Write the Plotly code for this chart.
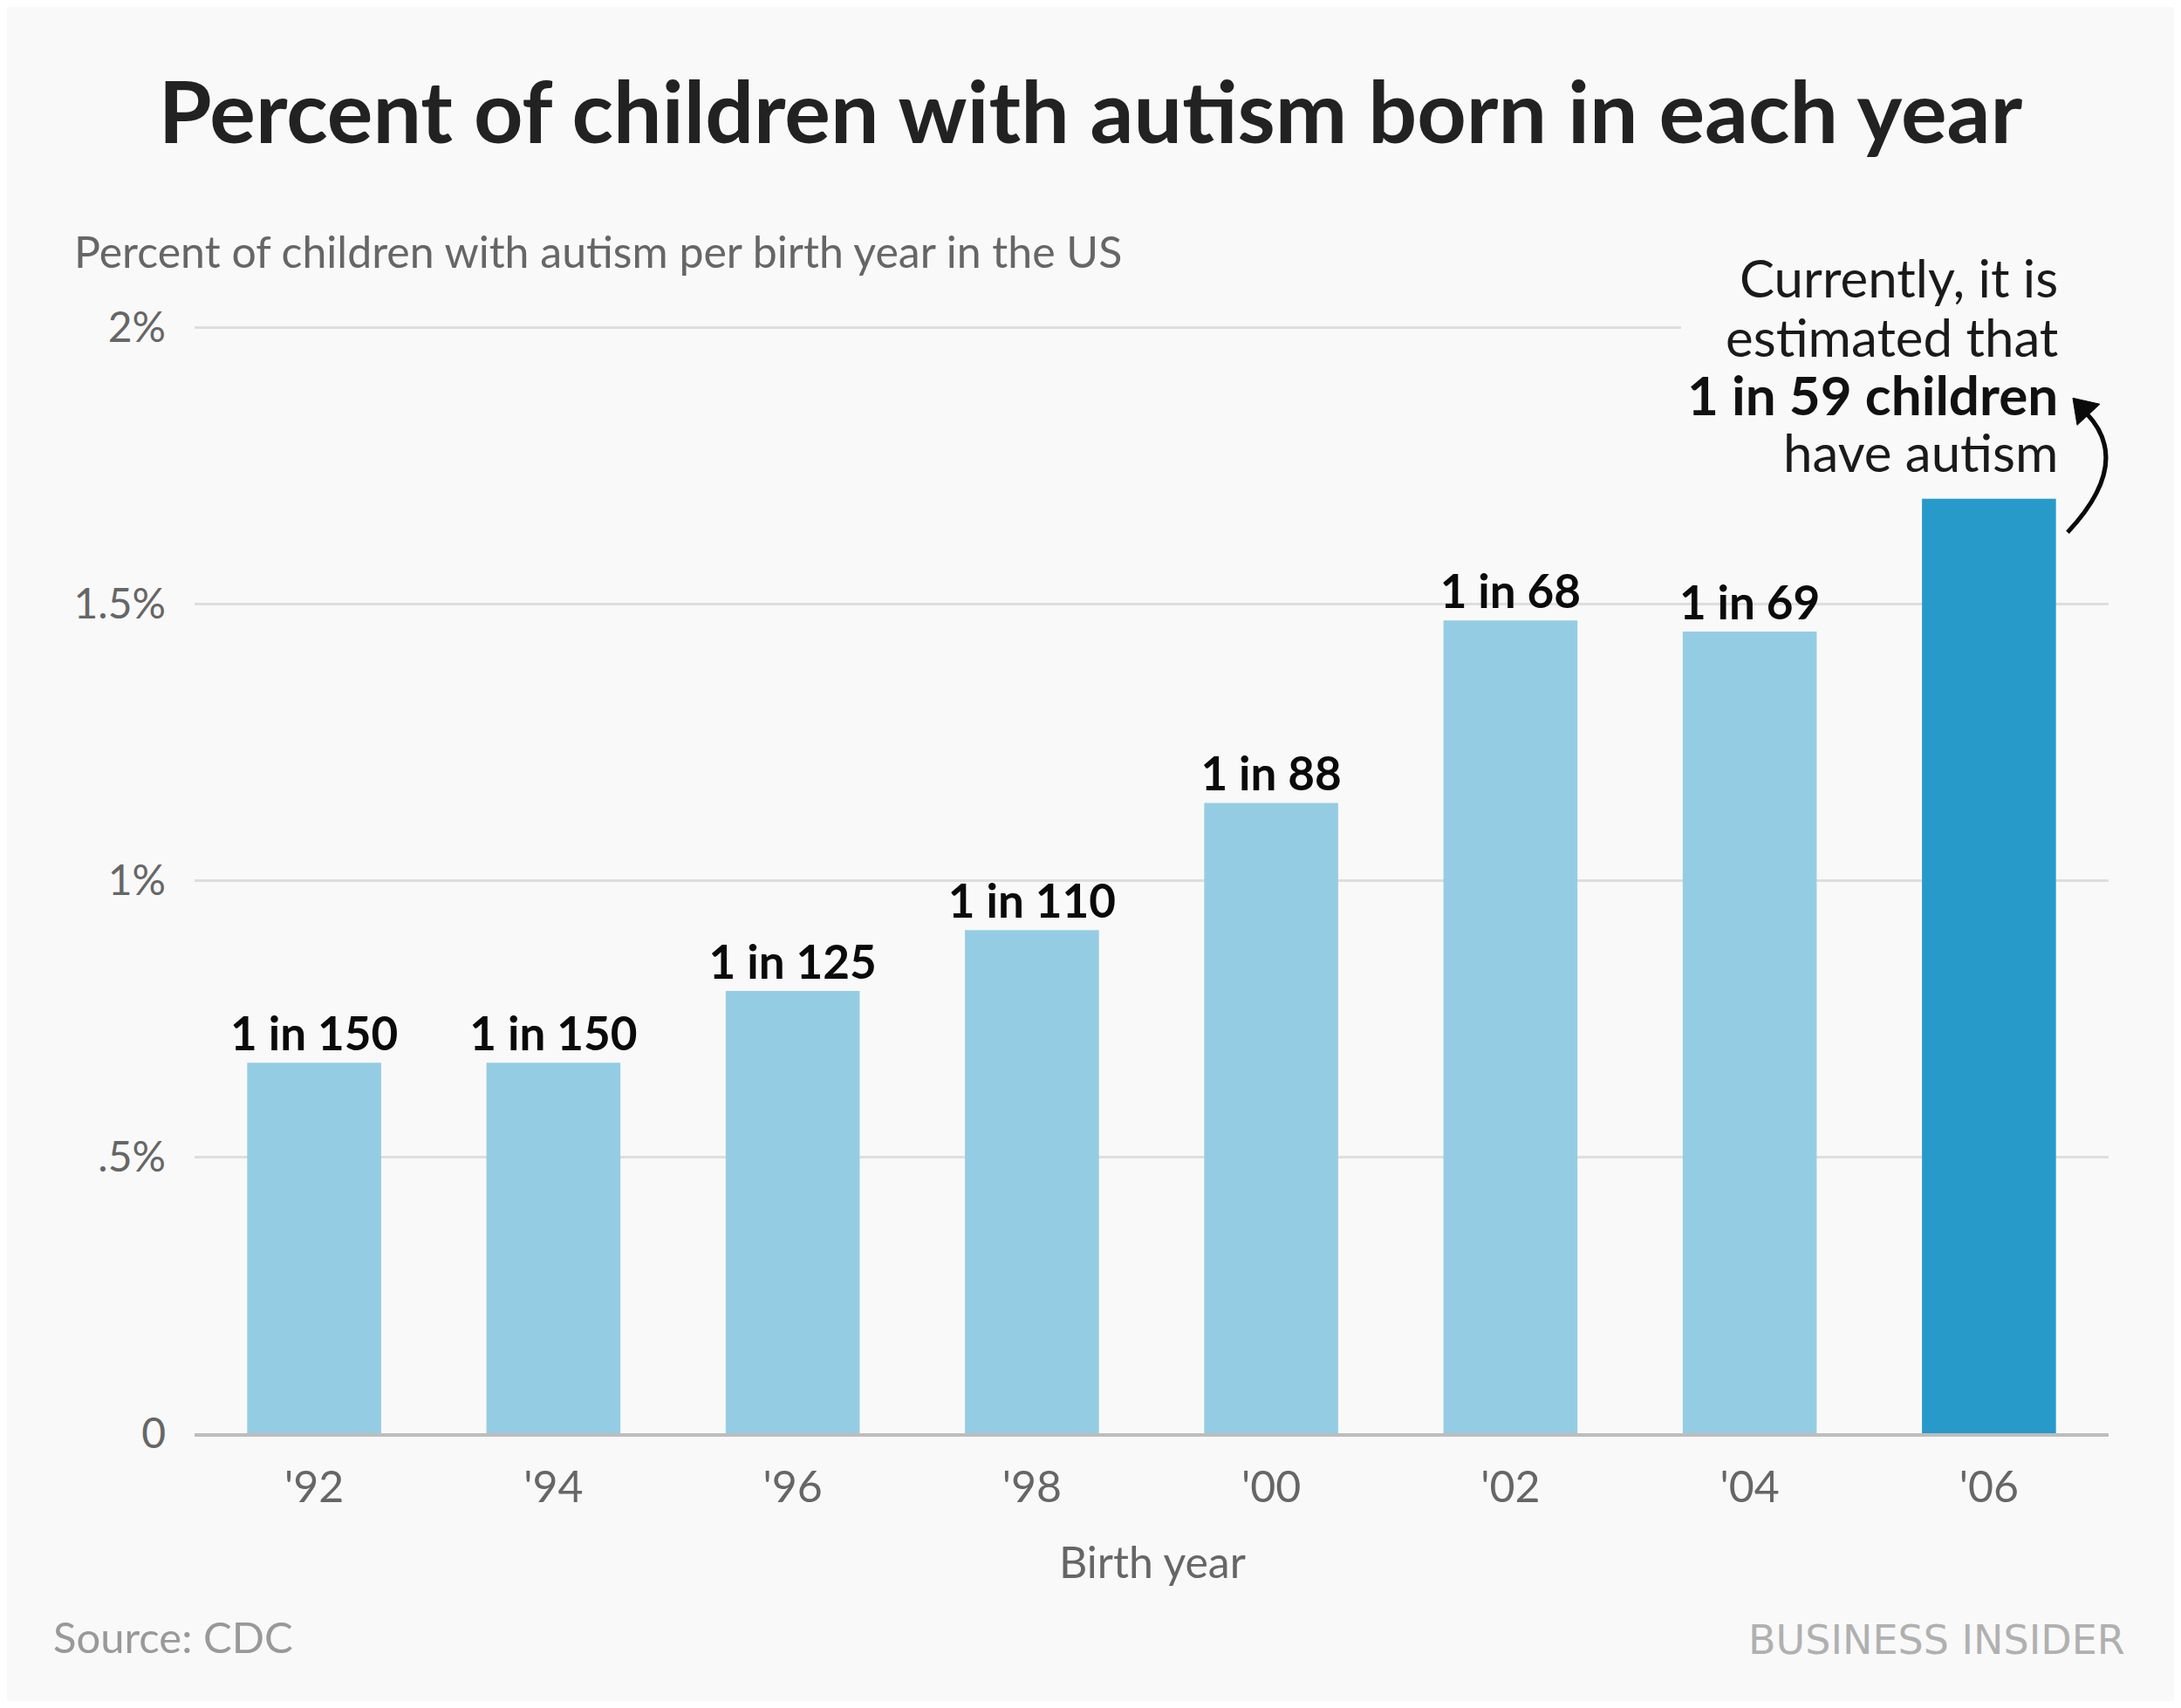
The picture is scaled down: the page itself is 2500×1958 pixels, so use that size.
import plotly.graph_objects as go

# Chart data
birth_years = ["'92", "'94", "'96", "'98", "'00", "'02", "'04", "'06"]
percent_autism = [0.67, 0.67, 0.80, 0.91, 1.14, 1.47, 1.45, 1.69]
ratio_labels = ["1 in 150", "1 in 150", "1 in 125", "1 in 110", "1 in 88", "1 in 68", "1 in 69", ""]
y_tick_values = [0, 0.5, 1, 1.5, 2]
y_tick_labels = ["0", ".5%", "1%", "1.5%", "2%"]

# the page puts an 8px body margin round the figure
O = 8
W, H = 2500 - 2 * O, 1958 - 2 * O

# plot area in reference pixels: x 223..2417, y(2%) 375 .. y(0) 1643
X0, X1 = 223, 2417
Y_ZERO, Y_TWO = 1643, 375
Y_TOP = 2.01  # a bit above 2% so the top gridline is drawn
PPU = (Y_ZERO - Y_TWO) / 2.0
Y_PLOT_TOP = Y_ZERO - Y_TOP * PPU

L, R = X0 - O, W - (X1 - O)
T, B = Y_PLOT_TOP - O, H - (Y_ZERO - O)
PW, PH = X1 - X0, Y_ZERO - Y_PLOT_TOP

FONT = "Lato"
BG = "#f9f9f9"
LIGHT = "#94cde3"
DARK = "#279ac9"


def px_x(px):
    # reference pixel -> paper x
    return (px - X0) / PW


def px_y(py):
    # reference pixel -> paper y
    return (Y_ZERO - py) / PH


bar_colors = [LIGHT] * (len(birth_years) - 1) + [DARK]

fig = go.Figure()
fig.add_trace(
    go.Bar(
        x=birth_years,
        y=percent_autism,
        marker=dict(color=bar_colors, line=dict(width=0)),
        text=ratio_labels,
        textposition="outside",
        constraintext="none",
        cliponaxis=False,
        textfont=dict(family=FONT, size=53, color="#0a0a0a", weight="bold"),
        hoverinfo="skip",
    )
)

annotations = [
    # subtitle
    dict(text="Percent of children with autism per birth year in the US", x=px_x(83), y=px_y(288),
         xanchor="left", yanchor="middle", font=dict(size=50, color="#666666")),
    # callout
    dict(text="Currently, it is", x=px_x(2361), y=px_y(318), xanchor="right", yanchor="middle",
         font=dict(size=60, color="#1a1a1a")),
    dict(text="estimated that", x=px_x(2361), y=px_y(386), xanchor="right", yanchor="middle",
         font=dict(size=60, color="#1a1a1a")),
    dict(text="<b>1 in 59 children</b>", x=px_x(2361), y=px_y(452), xanchor="right", yanchor="middle",
         font=dict(size=62, color="#111111")),
    dict(text="have autism", x=px_x(2361), y=px_y(518), xanchor="right", yanchor="middle",
         font=dict(size=60, color="#1a1a1a")),
    # axis title and footer
    dict(text="Birth year", x=px_x(1321), y=px_y(1790), xanchor="center", yanchor="middle",
         font=dict(size=50, color="#666666")),
    dict(text="Source: CDC", x=px_x(59), y=px_y(1876), xanchor="left", yanchor="middle",
         font=dict(size=49, color="#999999")),
    dict(text="BUSINESS INSIDER", x=px_x(2438), y=px_y(1880), xanchor="right", yanchor="middle",
         font=dict(size=46, color="#b0b0b0", family="DejaVu Sans")),
]
for a in annotations:
    a.update(xref="paper", yref="paper", showarrow=False)
    a["font"].setdefault("family", FONT)
    fig.add_annotation(**a)

# curved arrow pointing at the callout
p0, c, p2 = (2370, 610), (2445, 530), (2392, 474)
arrow_path = "M {},{} Q {},{} {},{}".format(
    px_x(p0[0]), px_y(p0[1]), px_x(c[0]), px_y(c[1]), px_x(p2[0]), px_y(p2[1]))
head = [(2376, 456), (2381, 487), (2407, 463)]
head_path = "M {},{} L {},{} L {},{} Z".format(*[v for pt in head for v in (px_x(pt[0]), px_y(pt[1]))])

fig.add_shape(type="path", path=arrow_path, xref="paper", yref="paper",
              line=dict(color="#0a0a0a", width=5), layer="above")
fig.add_shape(type="path", path=head_path, xref="paper", yref="paper",
              line=dict(color="#0a0a0a", width=1), fillcolor="#0a0a0a", layer="above")
# hide the top gridline behind the callout text
fig.add_shape(type="rect", xref="paper", yref="paper", x0=px_x(1927), x1=px_x(2430),
              y0=px_y(385), y1=px_y(366), line=dict(width=0), fillcolor=BG, layer="above")

fig.update_layout(
    width=W,
    height=H,
    margin=dict(l=L, r=R, t=T, b=B, pad=0),
    paper_bgcolor=BG,
    plot_bgcolor=BG,
    bargap=0.44,
    showlegend=False,
    font=dict(family=FONT),
    title=dict(
        text="<b>Percent of children with autism born in each year</b>",
        x=0.5, xref="container", xanchor="center",
        y=1 - (130 - O) / H, yref="container", yanchor="middle",
        font=dict(family=FONT, size=98.5, color="#222222"),
    ),
    xaxis=dict(
        showgrid=False,
        showline=True,
        linecolor="#bdbdbd",
        linewidth=4,
        ticks="",
        ticklabelstandoff=15,
        tickfont=dict(size=50, color="#666666"),
    ),
    yaxis=dict(
        range=[0, Y_TOP],
        tickvals=y_tick_values,
        ticktext=y_tick_labels,
        showgrid=True,
        gridcolor="#dedede",
        gridwidth=3,
        zeroline=False,
        showline=False,
        ticks="",
        ticklabelstandoff=32,
        tickfont=dict(size=48, color="#666666"),
    ),
)

fig.write_html("out.html")
